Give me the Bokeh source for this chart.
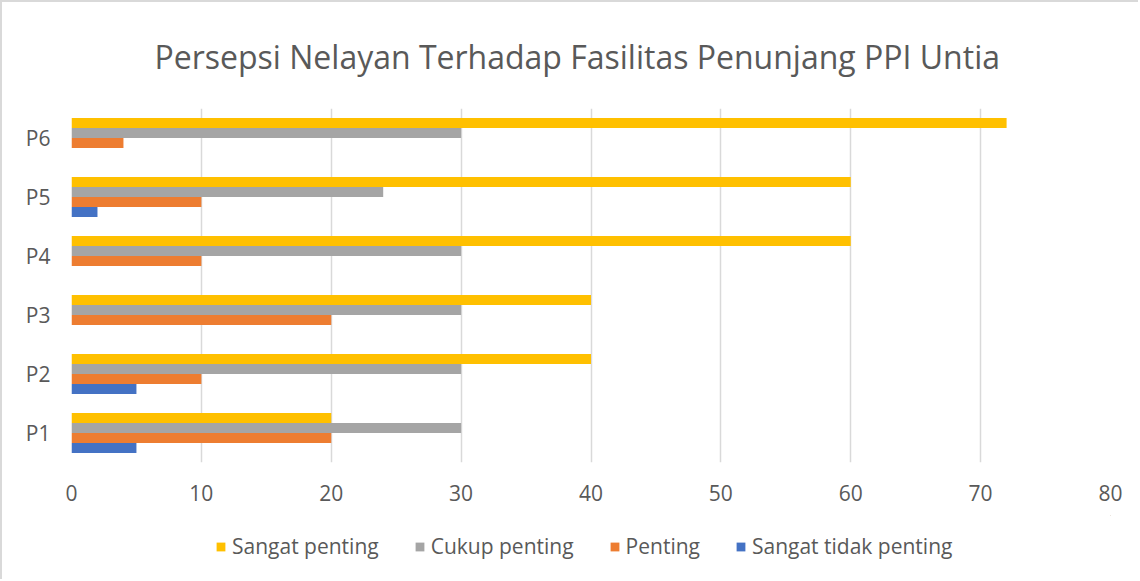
from bokeh.plotting import figure
from bokeh.layouts import column
from bokeh.models import ColumnDataSource, FactorRange, Legend, LegendItem, Range1d, FixedTicker
from bokeh.transform import dodge
from bokeh.embed import file_html
from bokeh.resources import INLINE

categories = ["P1", "P2", "P3", "P4", "P5", "P6"]
sangat_tidak_penting = [5, 5, 0, 0, 2, 0]
penting = [20, 10, 20, 10, 10, 4]
cukup_penting = [30, 30, 30, 30, 24, 30]
sangat_penting = [20, 40, 40, 60, 60, 72]
x_ticks = [0, 10, 20, 30, 40, 50, 60, 70, 80]

series = [
    ("Sangat tidak penting", "stp", "#4472C4", -0.255),
    ("Penting", "p", "#ED7D31", -0.085),
    ("Cukup penting", "cp", "#A5A5A5", 0.085),
    ("Sangat penting", "sp", "#FFC000", 0.255),
]

src = ColumnDataSource(dict(
    cat=categories,
    stp=sangat_tidak_penting,
    p=penting,
    cp=cukup_penting,
    sp=sangat_penting,
))

FONT = "Open Sans"
TXT = "#595959"

p = figure(width=1136, height=513, output_backend="svg", toolbar_location=None,
           y_range=FactorRange(*categories, range_padding=0),
           x_range=Range1d(0, 80),
           min_border_left=69, min_border_right=28, min_border_top=106, min_border_bottom=53)

for name, key, color, off in series:
    p.hbar(y=dodge("cat", off, range=p.y_range), right=key, left=0, height=0.17,
           source=src, fill_color=color, line_color=None)

p.title.text = "Persepsi Nelayan Terhadap Fasilitas Penunjang PPI Untia"
p.title.align = "left"
p.title.text_font = FONT
p.title.text_font_style = "normal"
p.title.text_font_size = "32px"
p.title.text_color = TXT
p.title.offset = 83
p.title.standoff = 61

p.xaxis.ticker = FixedTicker(ticks=x_ticks)
p.xaxis.axis_line_color = None
p.xaxis.major_tick_line_color = None
p.xaxis.minor_tick_line_color = None
p.xaxis.major_label_text_font = FONT
p.xaxis.major_label_text_font_size = "21px"
p.xaxis.major_label_text_color = TXT
p.xaxis.major_label_standoff = 16

p.yaxis.axis_line_color = None
p.yaxis.major_tick_line_color = None
p.yaxis.major_label_text_font = FONT
p.yaxis.major_label_text_font_size = "21px"
p.yaxis.major_label_text_color = TXT
p.yaxis.major_label_standoff = 15

p.xgrid.ticker = FixedTicker(ticks=x_ticks)
p.xgrid.grid_line_color = "#d9d9d9"
p.xgrid.grid_line_width = 1.5
p.ygrid.grid_line_color = None
p.outline_line_color = None

# legend strip below the chart
lg = figure(width=1136, height=64, output_backend="svg", toolbar_location=None,
            x_range=Range1d(0, 1), y_range=Range1d(0, 1),
            x_axis_location=None, y_axis_location=None,
            min_border_left=0, min_border_right=0, min_border_top=0, min_border_bottom=0)
lg.grid.visible = False
lg.outline_line_color = None

order = ["Sangat penting", "Cukup penting", "Penting", "Sangat tidak penting"]
colors = {name: color for name, key, color, off in series}
items = []
for n in order:
    # off-screen proxy bar: only its legend swatch is shown
    r = lg.hbar(y=[5], right=[6], left=[5], height=0.1, fill_color=colors[n], line_color=None)
    items.append(LegendItem(label=n, renderers=[r]))

legend = Legend(items=items, orientation="horizontal", location=(144, 19),
                glyph_width=11, glyph_height=11, label_standoff=6, spacing=35,
                margin=0, padding=6,
                label_text_font=FONT, label_text_font_size="21px", label_text_color=TXT,
                border_line_color=None, background_fill_alpha=0)
lg.add_layout(legend, "center")

layout = column(p, lg, styles={"border-left": "2px solid #d9d9d9", "border-top": "2px solid #d9d9d9"})

open("out.html", "w").write(file_html(layout, INLINE))
